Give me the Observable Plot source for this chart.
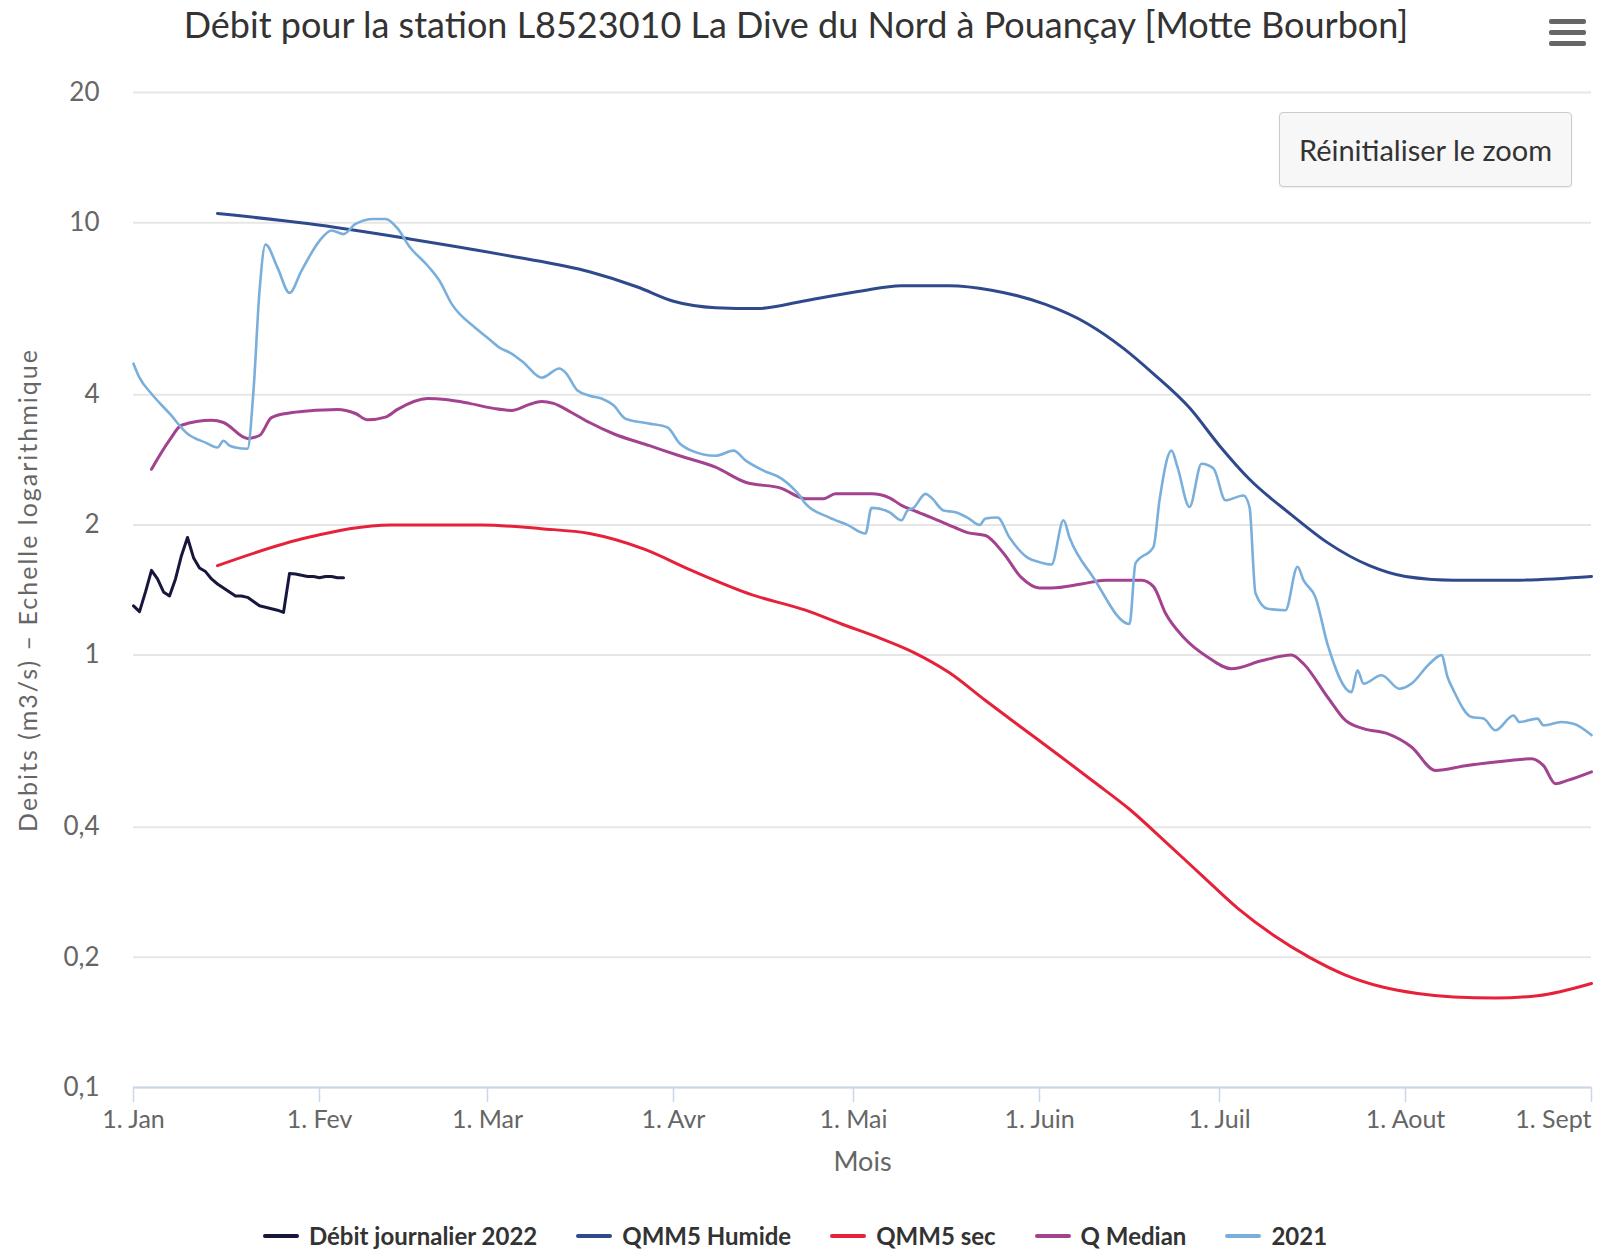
<!DOCTYPE html>
<html>
<head>
<meta charset="utf-8">
<script src="https://cdn.jsdelivr.net/npm/d3@7"></script>
<script src="https://cdn.jsdelivr.net/npm/@observablehq/plot@0.6"></script>
<style>
  html, body { margin: 0; padding: 0; background: #fff; }
  body { width: 1604px; height: 1249px; position: relative; overflow: hidden; font-family: Lato, "Open Sans", sans-serif; }
  #title { position: absolute; left: 0; top: 4px; width: 1592px; text-align: center; font-size: 36px; line-height: 40px; color: #333; }
  #chart { position: absolute; left: 0; top: 55px; }
  #button { position: absolute; left: 1279px; top: 112px; width: 291px; height: 73px; background: #f7f7f7; border: 1px solid #cccccc; border-radius: 4px; box-shadow: 0 1px 2px rgba(0,0,0,0.08); font-size: 29px; color: #333; display: flex; align-items: center; justify-content: center; }
  #menu { position: absolute; left: 1549px; top: 19px; width: 37px; }
  #menu div { height: 5px; background: #666; border-radius: 2px; margin-bottom: 6px; }
  #legend { position: absolute; left: 0; top: 1223px; width: 1590px; display: flex; justify-content: center; gap: 39px; font-size: 24px; font-weight: bold; color: #333; line-height: 26px; }
  .item { display: flex; align-items: center; gap: 10px; }
  .sw { width: 36px; height: 4px; border-radius: 2px; }
</style>
</head>
<body>
<div id="title">Débit pour la station L8523010 La Dive du Nord à Pouançay [Motte Bourbon]</div>
<div id="menu"><div></div><div></div><div></div></div>
<div id="chart"></div>
<div id="button">Réinitialiser le zoom</div>
<div id="legend"></div>
<script>
// ---------- Data ----------
const seriesNames = ["Débit journalier 2022", "QMM5 Humide", "QMM5 sec", "Q Median", "2021"];
const seriesColors = ["#17173d", "#2f4a8c", "#e5223a", "#a3428f", "#7aafdb"];

const daily2022Dates = ["01-01","01-02","01-03","01-04","01-05","01-06","01-07","01-08","01-09","01-10","01-11","01-12","01-13","01-14","01-15","01-16","01-17","01-18","01-19","01-20","01-21","01-22","01-23","01-24","01-25","01-26","01-27","01-28","01-29","01-30","01-31","02-01","02-02","02-03","02-04","02-05"];
const daily2022Values = [1.30,1.26,1.40,1.57,1.50,1.40,1.37,1.50,1.70,1.87,1.68,1.59,1.56,1.50,1.46,1.43,1.40,1.37,1.37,1.36,1.33,1.30,1.29,1.28,1.27,1.255,1.545,1.54,1.53,1.52,1.52,1.51,1.52,1.52,1.51,1.51];

const humideDates = ["01-15","01-30","02-16","03-05","03-18","03-26","04-01","04-08","04-15","04-23","05-02","05-09","05-17","05-24","06-02","06-09","06-15","06-20","06-26","07-01","07-06","07-13","07-19","07-26","08-01","08-09","08-19","09-01"];
const humideValues = [10.5,9.95,9.17,8.36,7.70,7.10,6.58,6.36,6.33,6.6,6.94,7.15,7.15,6.98,6.47,5.84,5.12,4.47,3.73,3.05,2.55,2.11,1.82,1.61,1.52,1.49,1.49,1.52];

const secDates = ["01-15","01-30","02-13","02-28","03-10","03-18","03-27","04-04","04-14","04-23","04-29","05-05","05-11","05-17","05-23","05-29","06-04","06-10","06-16","06-22","06-28","07-04","07-10","07-16","07-22","07-28","08-03","08-09","08-16","08-23","09-01"];
const secValues = [1.61,1.87,2.0,2.0,1.96,1.91,1.76,1.57,1.38,1.27,1.18,1.10,1.015,0.91,0.785,0.68,0.59,0.51,0.44,0.37,0.31,0.26,0.225,0.20,0.182,0.171,0.165,0.162,0.161,0.163,0.174];

const medianDates = ["01-04","01-07","01-09","01-14","01-16","01-20","01-22","01-24","01-27","01-30","02-04","02-07","02-09","02-12","02-14","02-19","02-22","02-26","03-02","03-05","03-08","03-10","03-12","03-15","03-18","03-22","03-28","04-02","04-08","04-13","04-19","04-23","04-26","04-28","05-04","05-07","05-09","05-11","05-14","05-18","05-20","05-23","05-26","05-29","06-01","06-03","06-08","06-12","06-18","06-20","06-22","06-25","06-29","07-03","07-08","07-13","07-15","07-19","07-22","07-25","07-29","08-02","08-06","08-11","08-18","08-22","08-24","08-26","08-28","09-01"];
const medianValues = [2.69,3.14,3.40,3.49,3.45,3.17,3.22,3.54,3.63,3.67,3.70,3.62,3.50,3.55,3.70,3.92,3.90,3.82,3.72,3.68,3.80,3.86,3.82,3.64,3.45,3.25,3.05,2.89,2.72,2.51,2.43,2.30,2.30,2.36,2.36,2.31,2.22,2.16,2.08,1.97,1.92,1.89,1.72,1.51,1.43,1.43,1.46,1.49,1.49,1.44,1.25,1.10,0.99,0.93,0.97,1.0,0.955,0.80,0.706,0.676,0.658,0.613,0.541,0.555,0.57,0.576,0.555,0.504,0.513,0.537];

const y2021Dates = ["01-01","01-02","01-04","01-07","01-10","01-13","01-15","01-16","01-17","01-18","01-20","01-21","01-22","01-23","01-25","01-27","01-29","02-01","02-03","02-05","02-07","02-10","02-12","02-14","02-16","02-19","02-21","02-23","02-27","03-01","03-03","03-05","03-07","03-10","03-13","03-14","03-16","03-18","03-20","03-22","03-24","03-28","03-31","04-02","04-04","04-08","04-11","04-13","04-16","04-19","04-22","04-23","04-27","04-30","05-03","05-04","05-07","05-09","05-10","05-11","05-13","05-14","05-16","05-18","05-20","05-22","05-23","05-25","05-27","05-30","06-01","06-03","06-05","06-06","06-10","06-16","06-17","06-20","06-21","06-23","06-24","06-26","06-28","06-30","07-02","07-05","07-06","07-07","07-09","07-12","07-14","07-15","07-17","07-19","07-23","07-24","07-25","07-28","07-31","08-02","08-05","08-07","08-08","08-09","08-12","08-14","08-16","08-19","08-20","08-23","08-24","08-27","08-29","09-01"];
const y2021Values = [4.72,4.38,4.02,3.62,3.25,3.10,3.02,3.13,3.05,3.02,3.00,4.09,6.95,8.9,7.87,6.88,7.74,9.08,9.59,9.41,9.93,10.2,10.2,9.70,8.8,7.96,7.34,6.50,5.71,5.42,5.14,4.98,4.75,4.38,4.60,4.5,4.09,3.98,3.92,3.78,3.52,3.43,3.36,3.09,2.97,2.89,2.97,2.82,2.67,2.56,2.34,2.24,2.08,2.0,1.91,2.19,2.14,2.05,2.16,2.19,2.36,2.31,2.16,2.14,2.08,2.0,2.07,2.08,1.87,1.68,1.64,1.62,2.05,1.87,1.51,1.18,1.63,1.78,2.28,2.97,2.72,2.20,2.77,2.70,2.28,2.34,2.20,1.39,1.28,1.27,1.60,1.49,1.36,1.06,0.821,0.922,0.859,0.898,0.836,0.859,0.955,1.0,0.89,0.829,0.719,0.713,0.67,0.725,0.70,0.713,0.688,0.70,0.694,0.653];

const monthTickDates = ["01-01","02-01","03-01","04-01","05-01","06-01","07-01","08-01","09-01"];
const monthLabels = ["1. Jan","1. Fev","1. Mar","1. Avr","1. Mai","1. Juin","1. Juil","1. Aout","1. Sept"];
const yTicks = [0.1, 0.2, 0.4, 1, 2, 4, 10, 20];
const yTickLabels = ["0,1","0,2","0,4","1","2","4","10","20"];
const yTitle = "Debits (m3/s) – Echelle logarithmique";
const xTitle = "Mois";

// ---------- Build ----------
const toDate = s => new Date(`2022-${s}T00:00:00Z`);
const mk = (dates, values) => dates.map((d, i) => ({date: toDate(d), value: values[i]}));
const series = [
  mk(daily2022Dates, daily2022Values),
  mk(humideDates, humideValues),
  mk(secDates, secValues),
  mk(medianDates, medianValues),
  mk(y2021Dates, y2021Values)
];
const curves = ["linear", "monotone-x", "monotone-x", "monotone-x", "monotone-x"];
const widths = [3, 3, 3, 3, 2.6];
const ticksX = monthTickDates.map(toDate);
const yLabelOf = new Map(yTicks.map((t, i) => [t, yTickLabels[i]]));

const chart = Plot.plot({
  width: 1604,
  height: 1140,
  marginLeft: 133,
  marginRight: 13,
  marginTop: 37,
  marginBottom: 108,
  style: {fontFamily: "Lato, 'Open Sans', sans-serif", background: "#fff", overflow: "visible"},
  x: {type: "utc", domain: [toDate("01-01"), toDate("09-01")]},
  y: {type: "log", domain: [0.1, 20]},
  marks: [
    Plot.gridY(yTicks, {stroke: "#e6e6e6", strokeOpacity: 1, strokeWidth: 2}),
    Plot.axisY(yTicks, {tickSize: 0, tickPadding: 34, tickFormat: d => yLabelOf.get(d), fontSize: 26, fill: "#666", label: null}),
    Plot.ruleY([0.1], {stroke: "#ccd6eb", strokeWidth: 2}),
    Plot.axisX(ticksX, {tickSize: 15, stroke: "#ccd6eb", strokeWidth: 1.5, tickFormat: () => "", label: null}),
    Plot.text(ticksX.slice(0, -1), {x: d => d, text: (d, i) => monthLabels[i], frameAnchor: "bottom", dy: 40, fontSize: 25, fill: "#666"}),
    Plot.text(ticksX.slice(-1), {x: d => d, text: () => monthLabels[monthLabels.length - 1], frameAnchor: "bottom", dy: 40, fontSize: 25, fill: "#666", textAnchor: "end"}),
    Plot.text([xTitle], {frameAnchor: "bottom", dy: 83, fontSize: 27, fill: "#666"}),
    Plot.text([yTitle], {frameAnchor: "left", dx: -105, rotate: -90, textAnchor: "middle", fontSize: 25, fill: "#666"}),
    ...series.map((s, i) => Plot.line(s, {x: "date", y: "value", stroke: seriesColors[i], strokeWidth: widths[i], curve: curves[i]}))
  ]
});
document.getElementById("chart").appendChild(chart);
// letter spacing for the rotated axis title
chart.querySelectorAll("text").forEach(t => { if (t.textContent === yTitle) t.setAttribute("letter-spacing", "2"); });

const legend = document.getElementById("legend");
seriesNames.forEach((n, i) => {
  const it = document.createElement("div");
  it.className = "item";
  const sw = document.createElement("div");
  sw.className = "sw";
  sw.style.background = seriesColors[i];
  const t = document.createElement("span");
  t.textContent = n;
  it.appendChild(sw); it.appendChild(t);
  legend.appendChild(it);
});
</script>
</body>
</html>
